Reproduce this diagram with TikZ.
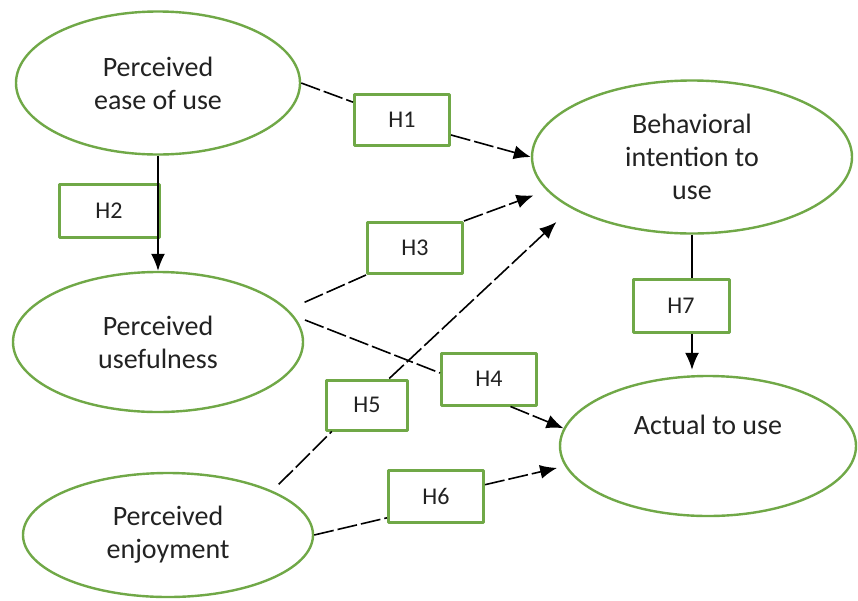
\documentclass[tikz,border=0pt]{standalone}
\usepackage{fontspec}
\setmainfont{Carlito}
\usetikzlibrary{arrows.meta,shapes.geometric}
\definecolor{ogreen}{RGB}{112,168,71}
\definecolor{ink}{RGB}{34,34,34}

\begin{document}
\begin{tikzpicture}[x=1pt,y=-1pt,line join=round,>={Latex[length=17pt,width=14pt]},
  ctext/.style={text=ink,font=\fontsize{28}{33}\selectfont},
  construct/.style={ellipse,draw=ogreen,line width=2.4pt,fill=white,align=center,inner sep=0pt,ctext},
  hyp/.style={rectangle,draw=ogreen,line width=3pt,fill=white,text=ink,font=\fontsize{24}{28}\selectfont,inner sep=0pt,minimum width=95pt,minimum height=51pt},
  link/.style={line width=1.6pt,dash pattern=on 20pt off 4pt},
  plain/.style={line width=1.6pt}]
\useasboundingbox (0,0) rectangle (858,600);

\node[construct,minimum width=284pt,minimum height=143pt] (peou) at (158,83) {Perceived\\ease of use};
\node[construct,minimum width=320pt,minimum height=153pt] (bi) at (692,157) {Behavioral\\intention to\\use};
\node[construct,minimum width=290pt,minimum height=140pt] (pu) at (158,342) {Perceived\\usefulness};
\node[construct,minimum width=290pt,minimum height=124pt] (pe) at (168,535) {Perceived\\enjoyment};
\node[construct,minimum width=296pt,minimum height=140pt,label={[ctext,yshift=21pt]center:Actual to use}] (atu) at (708,446) {};

\node[hyp] (h1) at (402,120) {H1};
\node[hyp,minimum width=100pt,minimum height=53pt] (h2) at (109,211) {H2};
\node[hyp] (h3) at (415,248) {H3};
\node[hyp,minimum height=52pt] (h4) at (489,379) {H4};
\node[hyp,minimum width=81pt,minimum height=50pt] (h5) at (367,405) {H5};
\node[hyp,minimum height=52pt] (h6) at (436,496) {H6};
\node[hyp,minimum width=96pt,minimum height=53pt] (h7) at (681,306) {H7};

\draw[link] (peou.east) -- (h1.160);
\draw[link,->] (h1.-17) -- (bi.west);
\draw[link,shorten <=18pt] (pu.14) -- (h3.south west);
\draw[link,->,shorten >=14pt] (h3.north east) -- (bi.193);
\draw[link,shorten <=12pt] (pu.11) -- (h4.173);
\draw[link,->] (h4.-52) -- (atu.173);
\draw[link,shorten <=9pt] (pe.23) -- (h5.217);
\draw[link,->,shorten >=20pt] (h5.50) -- (bi.203);
\draw[link] (pe.east) -- (h6.204);
\draw[link,->,shorten >=8pt] (h6.13) -- (atu.188);

\draw[plain,->] (peou.south) -- (pu.north);
\draw[plain] (bi.south) -- (bi.south |- h7.north);
\draw[plain,->,shorten >=5pt] (bi.south |- h7.south) -- (bi.south |- atu.north);
\end{tikzpicture}
\end{document}
